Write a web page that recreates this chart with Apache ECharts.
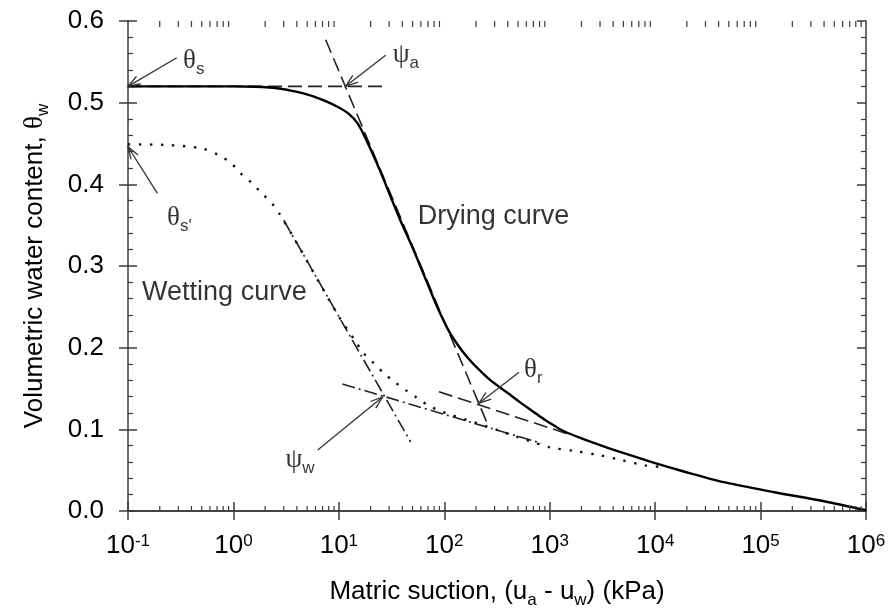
<!DOCTYPE html>
<html><head><meta charset="utf-8">
<script src="https://cdn.jsdelivr.net/npm/echarts@6/dist/echarts.min.js"></script>
<style>html,body{margin:0;padding:0;background:#fff}#c{width:889px;height:615px}</style>
</head><body><div id="c"></div>
<script>
// ---------------- data ----------------
const dryingSuction = [0.1, 1, 1.6, 2.2, 2.8, 3.6, 4.4, 5.8, 7.6, 10, 12.5, 15, 17.5, 20, 24, 29, 38, 51, 68, 87, 112, 135, 166, 210, 275, 400, 525, 710, 890, 1120, 1400, 2000, 3200, 5600, 10000, 18000, 46000, 135000, 400000, 1000000];
const dryingTheta   = [0.52, 0.52, 0.5195, 0.5185, 0.517, 0.5145, 0.512, 0.5075, 0.5015, 0.494, 0.486, 0.475, 0.459, 0.443, 0.42, 0.394, 0.357, 0.32, 0.281, 0.248, 0.219, 0.203, 0.188, 0.174, 0.16, 0.1445, 0.133, 0.121, 0.112, 0.104, 0.097, 0.089, 0.0795, 0.069, 0.0585, 0.049, 0.035, 0.023, 0.012, 0.001];

const wettingSuction = [0.1, 0.25, 0.5, 0.72, 0.95, 1.16, 1.48, 1.86, 2.34, 2.7, 4.0, 6.3, 10, 14.5, 17.2, 21.4, 26.6, 33, 43, 56, 71, 93, 115, 160, 320, 630, 1000, 1700, 2900, 4800, 7900, 12600];
const wettingTheta   = [0.449, 0.448, 0.444, 0.436, 0.426, 0.414, 0.402, 0.389, 0.376, 0.365, 0.328, 0.283, 0.238, 0.207, 0.193, 0.181, 0.169, 0.159, 0.148, 0.138, 0.129, 0.122, 0.118, 0.112, 0.099, 0.086, 0.078, 0.0735, 0.0686, 0.0624, 0.056, 0.0535];

// construction (tangent) lines
const dryFlatSuction = [0.1, 29];      const dryFlatTheta = [0.52, 0.52];
const drySteepSuction = [7.5, 260];    const drySteepTheta = [0.577, 0.105];
const dryResidSuction = [89, 1600];    const dryResidTheta = [0.146, 0.093];
const wetSteepSuction = [3.0, 48];     const wetSteepTheta = [0.356, 0.0845];
const wetResidSuction = [10.8, 830];   const wetResidTheta = [0.1555, 0.083];

// annotation labels
const noteText    = ['{g|θ}{sub|s}', '{g|ψ}{sub|a}', "{g|θ}{sub|s'}", '{g|θ}{sub|r}', '{g|ψ}{sub|w}', 'Drying curve', 'Wetting curve'];
const noteSuction = [0.333, 32.4, 0.235, 571, 3.11, 56, 0.136];
const noteTheta   = [0.551, 0.558, 0.359, 0.1727, 0.0624, 0.36, 0.267];

// annotation arrows (tail -> tip)
const arrowTailSuction = [0.29, 27.8, 0.19, 512, 6.3];
const arrowTailTheta   = [0.555, 0.558, 0.389, 0.170, 0.0747];
const arrowTipSuction  = [0.1, 11.6, 0.1, 213, 26];
const arrowTipTheta    = [0.52, 0.52, 0.446, 0.132, 0.1396];

// axes
const xTickExponents = [-1, 0, 1, 2, 3, 4, 5, 6];
const yTickLabels = ['0.0', '0.1', '0.2', '0.3', '0.4', '0.5', '0.6'];
const xName = 'Matric suction, (u{sub|a} - u{sub|w}) (kPa)';
const yName = 'Volumetric water content, {g|θ}{sub|w}';
// ----------------------------------------------------------------

const pairs = (xs, ys) => xs.map((x, i) => [x, ys[i]]);
const minorX = [];
for (let e = -1; e < 6; e++) for (let m = 2; m <= 9; m++) minorX.push([m * Math.pow(10, e), 0]);

const AX = '#3a3a3a';
const TXT = '#000';
const FONT = '"Liberation Sans", Arial, sans-serif';
const richSub = {
  g: { fontFamily: '"Liberation Serif", serif', fontSize: 27, lineHeight: 34, color: TXT },
  sub: { fontFamily: FONT, fontSize: 17, lineHeight: 14, verticalAlign: 'bottom', color: TXT },
  sup: { fontFamily: FONT, fontSize: 17, lineHeight: 14, verticalAlign: 'top', color: TXT }
};

const chart = echarts.init(document.getElementById('c'), null, { renderer: 'canvas' });

function lineSeries(xs, ys, style, smooth) {
  return {
    type: 'line', xAxisIndex: 0, yAxisIndex: 0, data: pairs(xs, ys),
    showSymbol: false, symbol: 'none', smooth: smooth || false,
    lineStyle: Object.assign({ join: 'round' }, style), silent: true, animation: false, z: 3
  };
}

const option = {
  animation: false,
  backgroundColor: '#fff',
  grid: { left: 128, right: 23, top: 21, bottom: 104, containLabel: false },
  xAxis: [
    {
      type: 'log', logBase: 10, min: 0.1, max: 1e6, position: 'bottom',
      axisLine: { show: true, lineStyle: { color: AX, width: 1.5 } },
      axisTick: { show: true, inside: true, length: 9, lineStyle: { color: AX, width: 1.5 } },
      splitLine: { show: false },
      axisLabel: {
        margin: 22, color: TXT, fontFamily: FONT, fontSize: 26,
        formatter: (v) => {
          const e = Math.round(Math.log10(v));
          return xTickExponents.indexOf(e) >= 0 ? '10{sup|' + e + '}' : '';
        },
        rich: { sup: { fontFamily: FONT, fontSize: 17, lineHeight: 14, verticalAlign: 'top', color: TXT } }
      },
      name: xName, nameLocation: 'middle', nameGap: 64,
      nameTextStyle: { color: TXT, fontFamily: FONT, fontSize: 26, lineHeight: 34, rich: richSub }
    },
    {
      type: 'log', logBase: 10, min: 0.1, max: 1e6, position: 'bottom',
      axisLine: { show: false }, axisLabel: { show: false }, splitLine: { show: false },
      axisTick: { show: true, inside: false, length: 8, lineStyle: { color: AX, width: 1.5 } }
    },
    {
      type: 'log', logBase: 10, min: 0.1, max: 1e6, position: 'top',
      axisLine: { show: true, lineStyle: { color: AX, width: 1.5 } }, axisLabel: { show: false }, splitLine: { show: false },
      axisTick: { show: true, inside: true, length: 9, lineStyle: { color: AX, width: 1.5 } }
    }
  ],
  yAxis: [
    {
      type: 'value', min: 0, max: 0.6, interval: 0.1, position: 'left',
      axisLine: { show: true, lineStyle: { color: AX, width: 1.5 } },
      axisTick: { show: true, inside: true, length: 9, lineStyle: { color: AX, width: 1.5 } },
      minorTick: { show: true, splitNumber: 5, length: 5, lineStyle: { color: AX, width: 1.2 } },
      splitLine: { show: false },
      axisLabel: {
        margin: 24, color: TXT, fontFamily: FONT, fontSize: 26,
        formatter: (v) => yTickLabels[Math.round(v * 10)]
      },
      name: yName, nameLocation: 'middle', nameGap: 76, nameRotate: 90,
      nameTextStyle: { color: TXT, fontFamily: FONT, fontSize: 26, lineHeight: 34, rich: richSub }
    },
    {
      type: 'value', min: 0, max: 0.6, interval: 0.1, position: 'left',
      axisLine: { show: false }, axisLabel: { show: false }, splitLine: { show: false },
      axisTick: { show: true, inside: false, length: 9, lineStyle: { color: AX, width: 1.5 } }
    },
    {
      type: 'value', min: 0, max: 0.6, interval: 0.1, position: 'right',
      axisLine: { show: true, lineStyle: { color: AX, width: 1.5 } }, axisLabel: { show: false }, splitLine: { show: false },
      axisTick: { show: true, inside: true, length: 9, lineStyle: { color: AX, width: 1.5 } },
      minorTick: { show: true, splitNumber: 5, length: 5, lineStyle: { color: AX, width: 1.2 } }
    }
  ],
  series: [
    // minor log ticks on bottom and top axes
    {
      type: 'custom', xAxisIndex: 0, yAxisIndex: 0, data: minorX, clip: false, silent: true, z: 5,
      encode: { x: 0, y: 1 },
      renderItem: (params, api) => {
        const x = api.value(0);
        const pb = api.coord([x, 0]);
        const pt = api.coord([x, 0.6]);
        const st = { stroke: AX, lineWidth: 1.2 };
        return { type: 'group', children: [
          { type: 'line', shape: { x1: pb[0], y1: pb[1], x2: pb[0], y2: pb[1] - 5 }, style: st },
          { type: 'line', shape: { x1: pt[0], y1: pt[1], x2: pt[0], y2: pt[1] + 6 }, style: st }
        ] };
      }
    },
    lineSeries(dryFlatSuction, dryFlatTheta, { color: '#222', width: 1.6, type: [14, 6] }),
    lineSeries(drySteepSuction, drySteepTheta, { color: '#222', width: 1.6, type: [14, 6] }),
    lineSeries(dryResidSuction, dryResidTheta, { color: '#222', width: 1.6, type: [14, 6] }),
    lineSeries(wetSteepSuction, wetSteepTheta, { color: '#222', width: 1.6, type: [13, 4, 2, 4] }),
    lineSeries(wetResidSuction, wetResidTheta, { color: '#222', width: 1.6, type: [13, 4, 2, 4] }),
    lineSeries(wettingSuction, wettingTheta, { color: '#111', width: 2.4, type: [2.4, 8.6] }, 0.3),
    lineSeries(dryingSuction, dryingTheta, { color: '#000', width: 2.4, type: 'solid' }, 0.3),
    // arrows
    {
      type: 'custom', xAxisIndex: 0, yAxisIndex: 0, clip: false, silent: true, z: 6,
      data: arrowTailSuction.map((s, i) => [s, arrowTailTheta[i], arrowTipSuction[i], arrowTipTheta[i]]),
      encode: { x: [0, 2], y: [1, 3] },
      renderItem: (params, api) => {
        const a = api.coord([api.value(0), api.value(1)]);
        const b = api.coord([api.value(2), api.value(3)]);
        const ang = Math.atan2(b[1] - a[1], b[0] - a[0]);
        const L = 13, h = 0.33;
        const l1 = [b[0] - L * Math.cos(ang - h), b[1] - L * Math.sin(ang - h)];
        const l2 = [b[0] - L * Math.cos(ang + h), b[1] - L * Math.sin(ang + h)];
        const st = { stroke: '#333', lineWidth: 1.3, fill: null };
        return { type: 'group', children: [
          { type: 'line', shape: { x1: a[0], y1: a[1], x2: b[0], y2: b[1] }, style: st },
          { type: 'polyline', shape: { points: [l1, b, l2] }, style: st }
        ] };
      }
    },
    // labels
    {
      type: 'scatter', xAxisIndex: 0, yAxisIndex: 0, symbolSize: 0, silent: true, z: 7,
      data: noteSuction.map((s, i) => ({ value: [s, noteTheta[i]], label: { formatter: noteText[i] } })),
      label: {
        show: true, position: 'right', distance: 0, color: TXT,
        fontFamily: FONT, fontSize: 27, lineHeight: 34,
        rich: richSub
      }
    }
  ]
};
chart.setOption(option);
</script>
</body></html>
